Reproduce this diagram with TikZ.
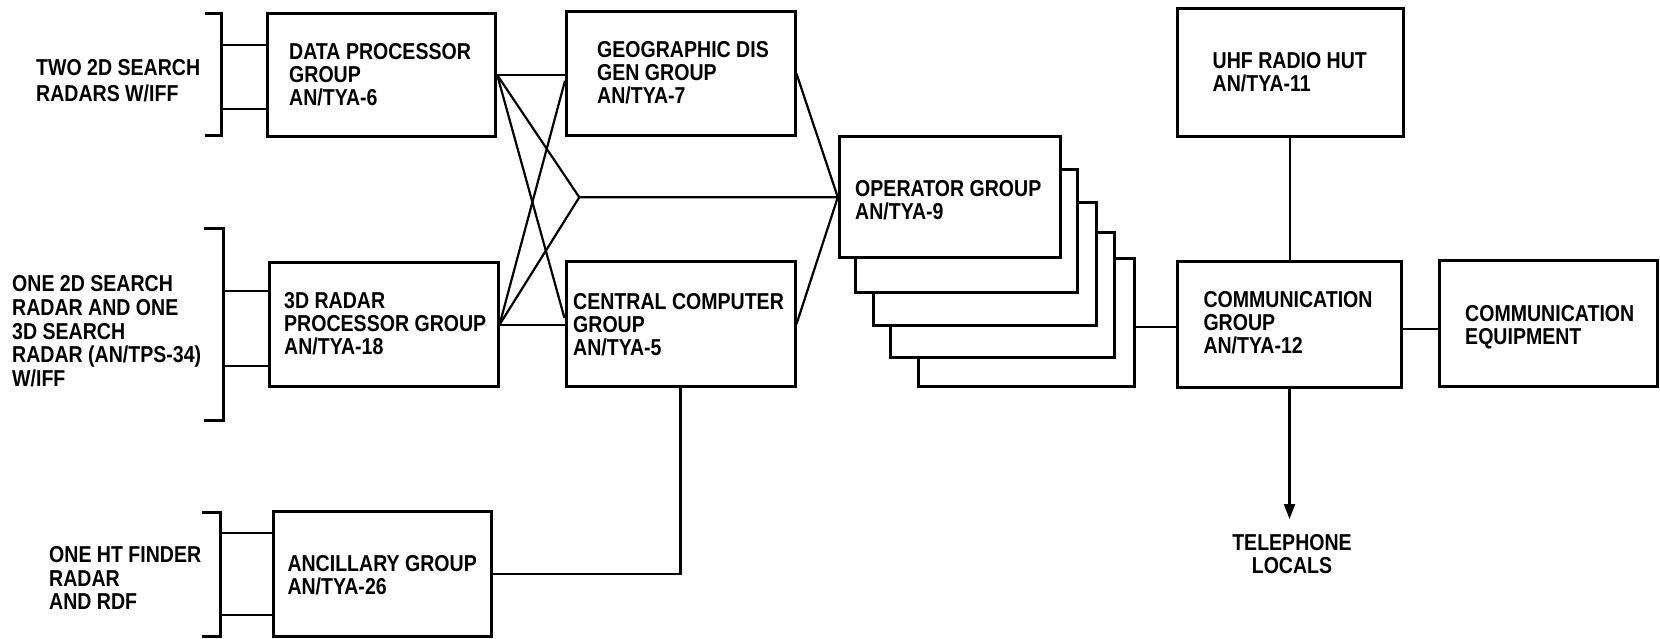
\documentclass[tikz,border=0pt]{standalone}
\usepackage{fontspec}
\setmainfont{Liberation Sans}[FakeStretch=0.85]
\usetikzlibrary{arrows.meta}

\begin{document}
\begin{tikzpicture}[x=1pt,y=-1pt,
  box/.style={draw, line width=3pt, rectangle, inner sep=0pt, fill=white},
  wire/.style={line width=2.2pt},
  brk/.style={line width=3pt},
  lbl/.style={anchor=north west, inner sep=0pt, align=left,
    font=\bfseries\fontsize{23}{22.8}\selectfont},
]
\useasboundingbox (0,0) rectangle (1660,639);

% ---------- inputs ----------
\node[lbl, font=\bfseries\fontsize{23}{25.5}\selectfont] (in1) at (36,59.5) {TWO 2D SEARCH\\RADARS W/IFF};
\node[lbl, font=\bfseries\fontsize{23}{23.9}\selectfont] (in2) at (12,275) {ONE 2D SEARCH\\RADAR AND ONE\\3D SEARCH\\RADAR (AN/TPS-34)\\W/IFF};
\node[lbl, font=\bfseries\fontsize{23}{23.5}\selectfont] (in3) at (49,546.5) {ONE HT FINDER\\RADAR\\AND RDF};

% brackets gathering each group of sensors
\draw[brk] (205,13.3) -- (221,13.3) -- (221,135.7) -- (205,135.7);
\draw[brk] (204,229) -- (223,229) -- (223,420) -- (204,420);
\draw[brk] (202,512.5) -- (220,512.5) -- (220,636.5) -- (202,636.5);
\coordinate (b1) at (221,74);
\coordinate (b2) at (223,324);
\coordinate (b3) at (220,574);

% ---------- processing boxes ----------
\node[box, minimum width=228pt, minimum height=123.4pt] (data) at (381.7,75) {};
\node[box, minimum width=229pt, minimum height=124pt] (rad) at (383.5,324.7) {};
\node[box, minimum width=218.4pt, minimum height=125pt] (anc) at (382.5,574.2) {};
\node[box, minimum width=228.5pt, minimum height=124.5pt] (geo) at (680.75,73.75) {};
\node[box, minimum width=229pt, minimum height=125.2pt] (cc) at (680.5,324.1) {};

% operator group: a stack of five consoles, back to front
\node[box, minimum width=215.7pt, minimum height=128.4pt] (op5) at (1026.15,322.5) {};
\node[box, minimum width=223.3pt, minimum height=124.6pt] (op4) at (1002.35,295) {};
\node[box, minimum width=223.4pt, minimum height=122.3pt] (op3) at (985,263.85) {};
\node[box, minimum width=222.3pt, minimum height=123pt] (op2) at (966.15,230.8) {};
\node[box, minimum width=220.7pt, minimum height=121pt] (op1) at (949.65,197.2) {};

% communications
\node[box, minimum width=226pt, minimum height=128.4pt] (uhf) at (1290,72.5) {};
\node[box, minimum width=224.5pt, minimum height=126pt] (comm) at (1289.5,324.2) {};
\node[box, minimum width=218.7pt, minimum height=125.3pt] (eq) at (1548.6,323.4) {};

% ---------- labels ----------
\node[lbl] (datat) at (289,43.3) {DATA PROCESSOR\\GROUP\\AN/TYA-6};
\node[lbl] (radt) at (284,292.5) {3D RADAR\\PROCESSOR GROUP\\AN/TYA-18};
\node[lbl] (anct) at (287.3,555) {ANCILLARY GROUP\\AN/TYA-26};
\node[lbl] (geot) at (597,41.5) {GEOGRAPHIC DIS\\GEN GROUP\\AN/TYA-7};
\node[lbl] (cct) at (573,293.5) {CENTRAL COMPUTER\\GROUP\\AN/TYA-5};
\node[lbl] (opt) at (855,180) {OPERATOR GROUP\\AN/TYA-9};
\node[lbl] (uhft) at (1212.5,52) {UHF RADIO HUT\\AN/TYA-11};
\node[lbl] (commt) at (1203.3,291.7) {COMMUNICATION\\GROUP\\AN/TYA-12};
\node[lbl] (eqt) at (1465,305) {COMMUNICATION\\EQUIPMENT};
\node[lbl, anchor=north, align=center] (tel) at (1292,534) {TELEPHONE\\LOCALS};

% ---------- connectors ----------
% sensor feeds into the brackets
\draw[wire] ([yshift=29.7pt]data.west) -- ([yshift=29.7pt]data.west -| b1);
\draw[wire] ([yshift=-34.3pt]data.west) -- ([yshift=-34.3pt]data.west -| b1);
\draw[wire] ([yshift=34pt]rad.west) -- ([yshift=34pt]rad.west -| b2);
\draw[wire] ([yshift=-41pt]rad.west) -- ([yshift=-41pt]rad.west -| b2);
\draw[wire] ([yshift=40.9pt]anc.west) -- ([yshift=40.9pt]anc.west -| b3);
\draw[wire] ([yshift=-40.8pt]anc.west) -- ([yshift=-40.8pt]anc.west -| b3);

% cross-connection between the processors
\coordinate (conv) at (579.3,197.3);
\draw[wire] (data.east) -- (data.east -| geo.west);
\draw[wire] (data.east) -- (conv);
\draw[wire] (data.east) -- ([yshift=6pt]cc.west);
\draw[wire] (rad.east) -- (rad.east -| cc.west);
\draw[wire] (rad.east) -- (conv);
\draw[wire] (rad.east) -- ([yshift=-7pt]geo.west);
\draw[wire] (conv) -- (op1.west);
\draw[wire] (geo.east) -- (op1.west);
\draw[wire] (cc.east) -- (op1.west);
\draw[wire] (cc.south) -- (cc.south |- anc.east) -- (anc.east);

% communications links
\draw[wire] ([yshift=-4.5pt]op5.east) -- ([yshift=-4.5pt]op5.east -| comm.west);
\draw[wire] ([yshift=-4.5pt]comm.east) -- ([yshift=-4.5pt]comm.east -| eq.west);
\draw[wire] (uhf.south) -- (uhf.south |- comm.north);
\draw[wire, -{Triangle[length=15pt,width=11pt]}] (comm.south) -- ([yshift=15pt]comm.south |- tel.north);
\end{tikzpicture}
\end{document}
